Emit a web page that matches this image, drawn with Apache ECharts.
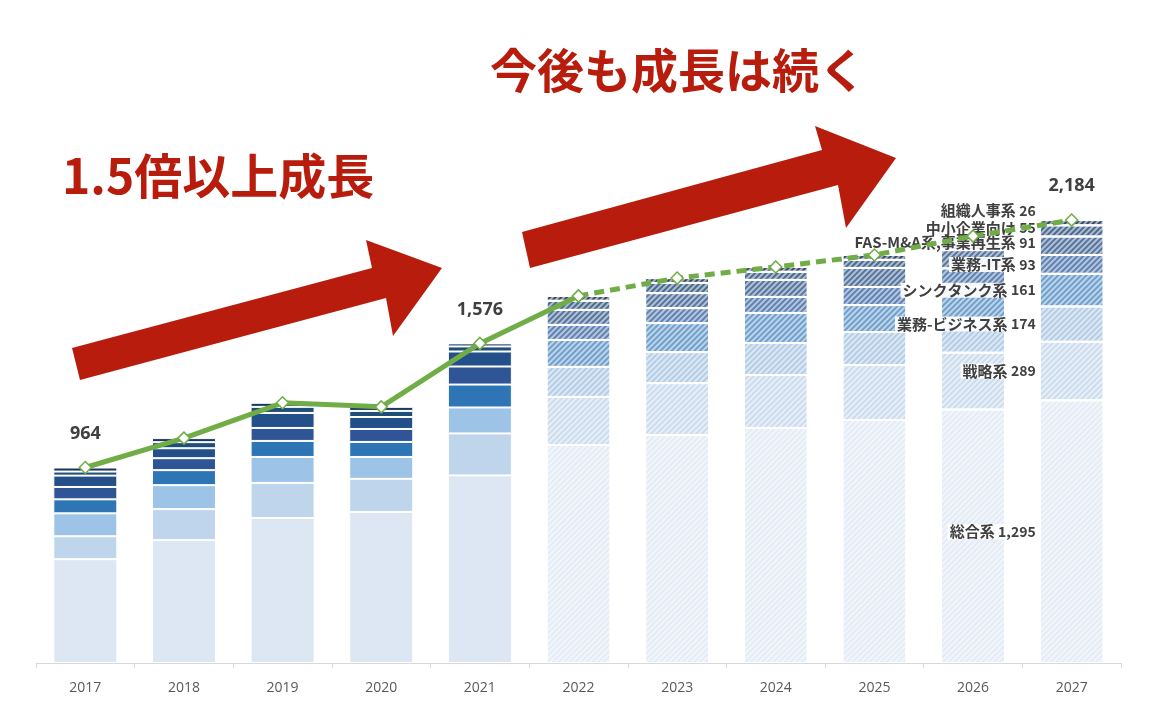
<!DOCTYPE html>
<html><head><meta charset="utf-8">
<script src="https://cdn.jsdelivr.net/npm/echarts@6/dist/echarts.min.js"></script>
<style>html,body{margin:0;background:#fff}#c{width:1153px;height:727px}</style>
</head><body><div id="c"></div>
<script>
const years = ['2017','2018','2019','2020','2021','2022','2023','2024','2025','2026','2027'];
const seriesNames = ['総合系','戦略系','業務-ビジネス系','シンクタンク系','業務-IT系','FAS-M&A系,事業再生系','中小企業向け','組織人事系'];
const sogo     = [512,606,715,745,925,1075,1124,1159,1198,1250,1295];
const senryaku = [113,153,173,163,207,237,256,261,271,280,289];
const business = [113,118,128,108,128,148,153,158,163,170,174];
const thinktank= [69,74,79,74,113,133,143,148,133,155,161];
const gyomuIT  = [61,59,64,64,89,74,74,79,89,91,93];
const fas      = [56,49,74,59,74,74,74,84,94,90,91];
const chusho   = [20,30,30,30,25,45,50,40,40,45,55];
const soshiki  = [20,20,20,20,15,24,24,24,24,24,26];
const totalLabelYears = ['2017','2021','2027'];
const forecastStart = 5;

const stacks = [sogo,senryaku,business,thinktank,gyomuIT,fas,chusho,soshiki];
const colors = ['#dce7f3','#bed5ec','#9dc3e6','#2e75b6','#2f5597','#24508a','#1f4e79','#1c3660'];
const fcColors = ['#e3ecf6','#cbdcee','#b3cde6','#6f9fcc','#5e82b3','#55759f','#4a6a90','#34496a'];
const totals = years.map((_,i)=>stacks.reduce((s,a)=>s+a[i],0));
const labelOffsets = [[0,0],[0,0],[0,0],[0,0],[0,0],[0,-3],[0,-3],[0,-12]];

const series = stacks.map((arr,si)=>({
  name: seriesNames[si], type:'bar', stack:'t', barWidth:64,
  itemStyle:{color:colors[si], borderColor:'#fff', borderWidth:1},
  data: arr.map((v,i)=>{
    const d = {value:v};
    if(i>=forecastStart){
      d.itemStyle = {color:fcColors[si], decal:{symbol:'rect',symbolSize:1,dashArrayX:[1,0],dashArrayY:[2,2],rotation:-Math.PI/4,color:'rgba(255,255,255,0.55)'}};
    }
    if(i===years.length-1){
      d.label = {show:true, position:'left', distance:2, offset:labelOffsets[si],
        formatter: seriesNames[si]+' {n|'+v.toLocaleString('en-US')+'}',
        fontFamily:'Noto Sans CJK JP', fontSize:15, fontWeight:'bold', color:'#404040',
        backgroundColor:'rgba(255,255,255,0.9)', padding:[0,2],
        rich:{n:{fontSize:14,fontWeight:'bold',color:'#404040'}}};
    }
    return d;
  })
}));

const mk = (from,to,dashed)=>({
  type:'line', z:10, symbol:'diamond', symbolSize:12,
  lineStyle:{color:'#70ad47', width:5, type: dashed?[10,6]:'solid'},
  itemStyle:{color:'#fff', borderColor:'#70ad47', borderWidth:1.5},
  data: totals.map((v,i)=>{
    if(i<from||i>to) return null;
    const d={value:v};
    if(totalLabelYears.includes(years[i]) && !(dashed && i===from)){
      d.label={show:true,position:'top',distance:18,formatter:v.toLocaleString('en-US'),
        fontSize:18,fontWeight:'bold',color:'#404040',fontFamily:'Open Sans'};
    }
    return d;
  })
});
series.push(mk(0,forecastStart,false));
series.push(mk(forecastStart,years.length-1,true));

const red='#b71c0c';
const chart = echarts.init(document.getElementById('c'));
chart.setOption({
  animation:false,
  grid:{left:36,right:32,top:156,bottom:64},
  xAxis:{type:'category',data:years,
    axisLine:{lineStyle:{color:'#d9d9d9'}},axisTick:{show:true,lineStyle:{color:'#d9d9d9'}},
    axisLabel:{color:'#595959',fontSize:14,margin:18,fontFamily:'Open Sans'}},
  yAxis:{type:'value',min:0,max:2500,show:false,splitLine:{show:false}},
  series,
  graphic:[
    {type:'polygon',z:20,shape:{points:[[72,348],[372,268],[366,240],[442,268],[393,336],[386,298],[80,380]]},style:{fill:red}},
    {type:'polygon',z:20,shape:{points:[[522,232],[822,150],[815,126],[896,158],[846,228],[838,185],[530,268]]},style:{fill:red}},
    {type:'text',z:20,left:62,top:152,style:{text:'1.5倍以上成長',fill:red,font:'bold 48px "Noto Sans CJK JP"'}},
    {type:'text',z:20,left:490,top:47,style:{text:'今後も成長は続く',fill:red,font:'bold 47px "Noto Sans CJK JP"'}}
  ]
});
</script></body></html>
